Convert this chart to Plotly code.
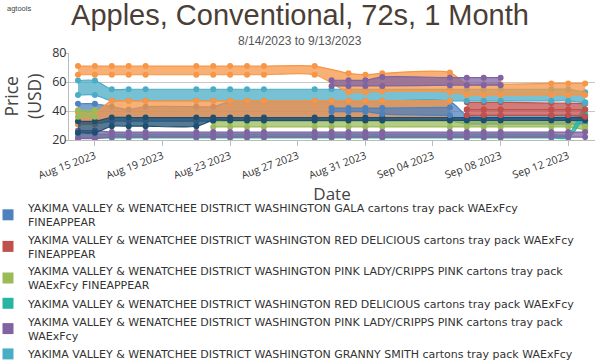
import plotly.graph_objects as go

DATES = ["2023-08-14", "2023-08-15", "2023-08-16", "2023-08-17", "2023-08-18",
         "2023-08-21", "2023-08-22", "2023-08-23", "2023-08-24", "2023-08-25",
         "2023-08-28", "2023-08-29", "2023-08-30", "2023-08-31", "2023-09-01",
         "2023-09-05", "2023-09-06", "2023-09-07", "2023-09-08",
         "2023-09-11", "2023-09-12", "2023-09-13"]
N = None

# Legend series (low / high prices per date)
gala_low = [31, 31, 33, 33, 33, 33, 33, 33, 33, 33, 33, 33, 33, 33, 33, 33, 31, 31, 31, 31, 31, 31]
gala_high = [45, 45, 43, 41, 43, 43, 43, 46.5, 46.5, 46.5, 46.5, 46.5, 46.5, 46.5, 46.5, 46.5, 37, 37, 37, 37, 37, 37]
red_low = [N] * 16 + [41, 41, 41, 41, 41, 41]
red_high = [N] * 16 + [46, 46, 46, 45.5, 45.5, 45]
green_low = [N] * 6 + [29] * 15 + [27]
green_high = [N] * 6 + [33] * 15 + [29.5]
teal_low = [21.5] * 21 + [38]
teal_high = [24] * 21 + [46]
purple_low = [21, 21] + [22] * 20
purple_high = [26.5, 26.5] + [25.5] * 20
granny_low = [51, 51] + [47] * 19 + [45.5]
granny_high = [61, 61] + [55] * 19 + [53]

# Further series (legend entries below the visible window)
orange_low = [65] * 11 + [N, 53, 53, 53.5, 53, 51, 51, 51, 51, 51, 51]
orange_high = [71] * 11 + [N, 66, 65, 66, 66.5, 58.5, 58.5, 58.5, 59, 59, 59]
salmon_low = [31, 31] + [35.3] * 14 + [N] * 6
salmon_high = [39, 39] + [47] * 14 + [N] * 6
navy_low = [25, 25] + [29.5] * 4 + [33.5] * 16
navy_high = [33, 33] + [35.5] * 20
blue2_low = [N] * 11 + [39.5, 39.5, 39.5, 38, 37] + [N] * 6
blue2_high = [N] * 11 + [42, 42, 42, 42, 42.5] + [N] * 6
red2_low = [N] * 16 + [37] * 5 + [36]
red2_high = [N] * 16 + [41] * 6
green2_low = [36, 36] + [N] * 20
green2_high = [40.5, 40.5] + [N] * 20
purple2_low = [N] * 11 + [57.3, 57.3, 57.3, 57.3, 57.8, 57.8, 57.8, 57.8] + [N] * 3
purple2_high = [N] * 11 + [61.2, 61.2, 61.2, 63.5, 63, 63, 63, 63] + [N] * 3

LEGEND_NAMES = [
    "YAKIMA VALLEY & WENATCHEE DISTRICT WASHINGTON GALA cartons tray pack WAExFcy<br>FINEAPPEAR",
    "YAKIMA VALLEY & WENATCHEE DISTRICT WASHINGTON RED DELICIOUS cartons tray pack WAExFcy<br>FINEAPPEAR",
    "YAKIMA VALLEY & WENATCHEE DISTRICT WASHINGTON PINK LADY/CRIPPS PINK cartons tray pack<br>WAExFcy FINEAPPEAR",
    "YAKIMA VALLEY & WENATCHEE DISTRICT WASHINGTON RED DELICIOUS cartons tray pack WAExFcy",
    "YAKIMA VALLEY & WENATCHEE DISTRICT WASHINGTON PINK LADY/CRIPPS PINK cartons tray pack<br>WAExFcy",
    "YAKIMA VALLEY & WENATCHEE DISTRICT WASHINGTON GRANNY SMITH cartons tray pack WAExFcy",
]

BLUE, RED, GREEN, TEAL, PURPLE, LBLUE, ORANGE, NAVY = (
    "#4F81BD", "#C0504D", "#9BBB59", "#26B5A3", "#8064A2", "#4BACC6", "#F79646", "#1E4E70")

series = [
    (gala_low, gala_high, BLUE),
    (red_low, red_high, RED),
    (green_low, green_high, GREEN),
    (teal_low, teal_high, TEAL),
    (purple_low, purple_high, PURPLE),
    (granny_low, granny_high, LBLUE),
    (orange_low, orange_high, ORANGE),
    (salmon_low, salmon_high, ORANGE),
    (navy_low, navy_high, NAVY),
    (blue2_low, blue2_high, BLUE),
    (red2_low, red2_high, RED),
    (green2_low, green2_high, GREEN),
    (purple2_low, purple2_high, PURPLE),
]
LEGEND_COLORS = [BLUE, RED, GREEN, TEAL, PURPLE, LBLUE]

X_TICKS = ["2023-08-15", "2023-08-19", "2023-08-23", "2023-08-27",
           "2023-08-31", "2023-09-04", "2023-09-08", "2023-09-12"]
X_TICKTEXT = ["Aug 15 2023", "Aug 19 2023", "Aug 23 2023", "Aug 27 2023",
              "Aug 31 2023", "Sep 04 2023", "Sep 08 2023", "Sep 12 2023"]
Y_TICKS = [20, 40, 60, 80]


def rgba(hexc, a):
    h = hexc.lstrip("#")
    r, g, b = int(h[0:2], 16), int(h[2:4], 16), int(h[4:6], 16)
    return f"rgba({r},{g},{b},{a})"


fig = go.Figure()
for low, high, col in series:
    xs = [d for d, l in zip(DATES, low) if l is not None]
    lo = [l for l in low if l is not None]
    hi = [h for h in high if h is not None]
    common = dict(mode="lines+markers", line=dict(color=col, width=1.2, shape="spline", smoothing=0.8),
                  marker=dict(color=col, size=6), showlegend=False, hoverinfo="skip")
    fig.add_trace(go.Scatter(x=xs, y=lo, **common))
    fig.add_trace(go.Scatter(x=xs, y=hi, fill="tonexty", fillcolor=rgba(col, 0.75), **common))

for name, col in zip(LEGEND_NAMES, LEGEND_COLORS):
    fig.add_trace(go.Scatter(x=[None], y=[None], mode="markers", name=name,
                             marker=dict(symbol="square", size=11, color=col)))

FONT = "Open Sans, DejaVu Sans, sans-serif"
LFONT = "DejaVu Sans, sans-serif"
fig.update_layout(
    width=600, height=360,
    margin=dict(l=69, r=5, t=53, b=220, autoexpand=False),
    paper_bgcolor="white", plot_bgcolor="white",
    title=dict(text="Apples, Conventional, 72s, 1 Month", x=0.5, xref="container", xanchor="center",
               y=1 - 15 / 360, yref="container", yanchor="middle",
               font=dict(family="Liberation Sans, Arial, sans-serif", size=29, color="#4a3e36")),
    font=dict(family=FONT, color="#333"),
    legend=dict(x=(-12 - 69) / 526, xanchor="left", y=(140 - 194) / 87, yanchor="top",
                font=dict(family=LFONT, size=11, color="#333"), traceorder="normal",
                bgcolor="rgba(0,0,0,0)"),
    xaxis=dict(type="date", range=["2023-08-13 11:15", "2023-09-13 14:00"],
               tickvals=X_TICKS, ticktext=X_TICKTEXT, tickangle=-20,
               tickfont=dict(family=FONT, size=10.5, color="#333"),
               showgrid=False, showline=True, linecolor="#bbb", ticks="outside",
               ticklen=5, tickcolor="#bbb",
               title=dict(text="Date", font=dict(family=FONT, size=17, color="#444"), standoff=1),
               zeroline=False),
    yaxis=dict(range=[20, 80], tickvals=Y_TICKS, tickprefix="$",
               tickfont=dict(family=FONT, size=12.5, color="#333"),
               showgrid=True, gridcolor="#c8c8c8", gridwidth=1,
               showline=True, linecolor="#bbb", ticks="outside", ticklen=3, tickcolor="#bbb",
               ticklabelstandoff=-4, zeroline=False),
    annotations=[
        dict(text="agtools", xref="paper", yref="paper", x=(5 - 69) / 526, y=1 + (53 - 9) / 87,
             xanchor="left", yanchor="middle", showarrow=False,
             font=dict(family="Liberation Sans, Arial", size=7.5, color="#444")),
        dict(text="8/14/2023 to 9/13/2023", xref="paper", yref="paper",
             x=(300 - 69) / 526, y=1 + (53 - 41) / 87, xanchor="center", yanchor="middle",
             showarrow=False, font=dict(family="Liberation Sans, Arial", size=12, color="#555")),
        dict(text="Price<br>(USD)", xref="paper", yref="paper", x=(22 - 69) / 526, y=(140 - 97) / 87,
             xanchor="center", yanchor="middle", textangle=-90, showarrow=False,
             font=dict(family=FONT, size=17.5, color="#444")),
    ],
)

fig.write_html("out.html", config={"displayModeBar": False},
               post_script="document.body.style.margin='0';")
